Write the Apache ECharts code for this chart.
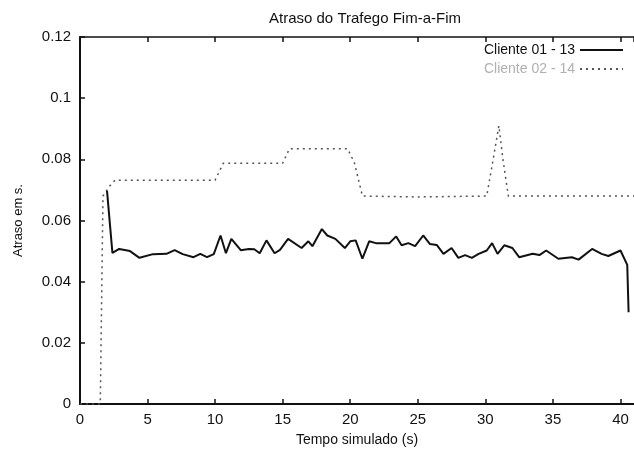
<!DOCTYPE html>
<html>
<head>
<meta charset="utf-8">
<script src="https://cdn.jsdelivr.net/npm/echarts@6/dist/echarts.min.js"></script>
<style>html,body{margin:0;padding:0;background:#fff}#c{width:634px;height:452px}</style>
</head>
<body>
<div id="c"></div>
<script>
const titleText = 'Atraso do Trafego Fim-a-Fim';
const xName = 'Tempo simulado (s)';
const yName = 'Atraso em s.';
const seriesNames = ['Cliente 01 - 13', 'Cliente 02 - 14'];

const solidT = [2.0, 2.4, 2.9, 3.7, 4.4, 5.4, 6.4, 7.0, 7.6, 8.4, 8.9, 9.4, 9.9, 10.4, 10.8, 11.2, 11.9, 12.5, 12.9, 13.3, 13.8, 14.4, 14.8, 15.4, 16.4, 16.9, 17.2, 17.9, 18.3, 18.9, 19.6, 20.0, 20.4, 20.9, 21.4, 21.9, 22.9, 23.4, 23.8, 24.3, 24.8, 25.4, 25.9, 26.4, 26.9, 27.5, 28.0, 28.5, 29.0, 29.5, 30.1, 30.5, 30.9, 31.4, 32.0, 32.5, 33.5, 34.0, 34.5, 35.4, 36.4, 36.9, 37.9, 38.6, 39.1, 40.0, 40.5, 40.6];
const solidV = [0.0697, 0.0494, 0.0507, 0.0500, 0.0478, 0.0490, 0.0491, 0.0503, 0.0490, 0.0480, 0.0491, 0.0480, 0.0490, 0.0551, 0.0493, 0.0540, 0.0503, 0.0507, 0.0506, 0.0493, 0.0535, 0.0493, 0.0504, 0.0540, 0.0510, 0.0532, 0.0516, 0.0572, 0.0551, 0.0540, 0.0510, 0.0532, 0.0535, 0.0475, 0.0532, 0.0526, 0.0526, 0.0548, 0.0519, 0.0526, 0.0516, 0.0551, 0.0523, 0.0520, 0.0491, 0.0510, 0.0478, 0.0487, 0.0478, 0.0491, 0.0502, 0.0526, 0.0491, 0.0519, 0.0510, 0.0480, 0.0491, 0.0487, 0.0502, 0.0475, 0.0480, 0.0472, 0.0507, 0.0491, 0.0484, 0.0502, 0.0455, 0.0300];

const dottedT = [0, 1.5, 1.7, 2.2, 2.6, 5.0, 10.0, 10.6, 15.0, 15.5, 19.8, 20.3, 20.9, 25.0, 30.1, 30.5, 31.0, 31.3, 31.7, 35.0, 41.0];
const dottedV = [0, 0, 0.068, 0.0713, 0.0732, 0.0732, 0.0732, 0.0787, 0.0787, 0.0835, 0.0835, 0.0790, 0.0680, 0.0677, 0.0680, 0.0780, 0.0910, 0.0800, 0.0680, 0.0680, 0.0680];

const xTicks = [0, 5, 10, 15, 20, 25, 30, 35, 40];
const yTicks = [0, 0.02, 0.04, 0.06, 0.08, 0.1, 0.12];

const zip = (a, b) => a.map((v, i) => [v, b[i]]);
const FONT = "'Liberation Sans', Arial, sans-serif";

const chart = echarts.init(document.getElementById('c'), null, {renderer: 'canvas'});
chart.setOption({
  animation: false,
  backgroundColor: '#fff',
  textStyle: {fontFamily: FONT, color: '#111'},
  title: {
    text: titleText, left: 360, top: 6, textAlign: 'center',
    textStyle: {fontFamily: FONT, fontSize: 15, fontWeight: 'normal', color: '#111'}
  },
  legend: {
    orient: 'vertical', right: 5, top: 38, align: 'right',
    itemWidth: 43, itemHeight: 10, itemGap: 5,
    itemStyle: {opacity: 0},
    textStyle: {fontFamily: FONT, fontSize: 14, color: '#111'},
    data: [
      {name: seriesNames[0]},
      {name: seriesNames[1], textStyle: {color: '#b0b0b0'}}
    ]
  },
  grid: {left: 80, right: -5, top: 37, bottom: 43, containLabel: false},
  xAxis: [{
    type: 'value', min: 0, max: 41, interval: 5,
    name: xName, nameLocation: 'middle', nameGap: 29,
    nameTextStyle: {fontFamily: FONT, fontSize: 14, color: '#111'},
    axisLine: {lineStyle: {color: '#111', width: 2}},
    axisTick: {inside: true, length: 5, lineStyle: {color: '#111', width: 1.5}},
    axisLabel: {fontFamily: FONT, fontSize: 15, color: '#111', margin: 8, showMaxLabel: false,
      formatter: v => xTicks.includes(v) ? String(v) : ''},
    splitLine: {show: false}
  }, {
    type: 'value', min: 0, max: 41, interval: 5, position: 'top',
    axisLine: {lineStyle: {color: '#111', width: 1.5}},
    axisTick: {inside: true, length: 5, lineStyle: {color: '#111', width: 1.5}},
    axisLabel: {show: false},
    splitLine: {show: false}
  }],
  yAxis: [{
    type: 'value', min: 0, max: 0.12, interval: 0.02,
    name: yName, nameLocation: 'middle', nameGap: 55, nameRotate: 90,
    nameTextStyle: {fontFamily: FONT, fontSize: 13, color: '#111'},
    axisLine: {show: true, lineStyle: {color: '#111', width: 2}},
    axisTick: {show: true, inside: true, length: 5, lineStyle: {color: '#111', width: 1.5}},
    axisLabel: {fontFamily: FONT, fontSize: 15, color: '#111', margin: 9,
      formatter: v => String(+v.toFixed(2))},
    splitLine: {show: false}
  }],
  series: [{
    name: seriesNames[0], type: 'line', showSymbol: false, symbol: 'none',
    data: zip(solidT, solidV), z: 3,
    lineStyle: {color: '#111', width: 2}, itemStyle: {color: '#111'}
  }, {
    name: seriesNames[1], type: 'line', showSymbol: false, symbol: 'none',
    data: zip(dottedT, dottedV), z: 2,
    lineStyle: {color: '#555', width: 1.5, type: [2, 4]}, itemStyle: {color: '#555'}
  }]
});
</script>
</body>
</html>
